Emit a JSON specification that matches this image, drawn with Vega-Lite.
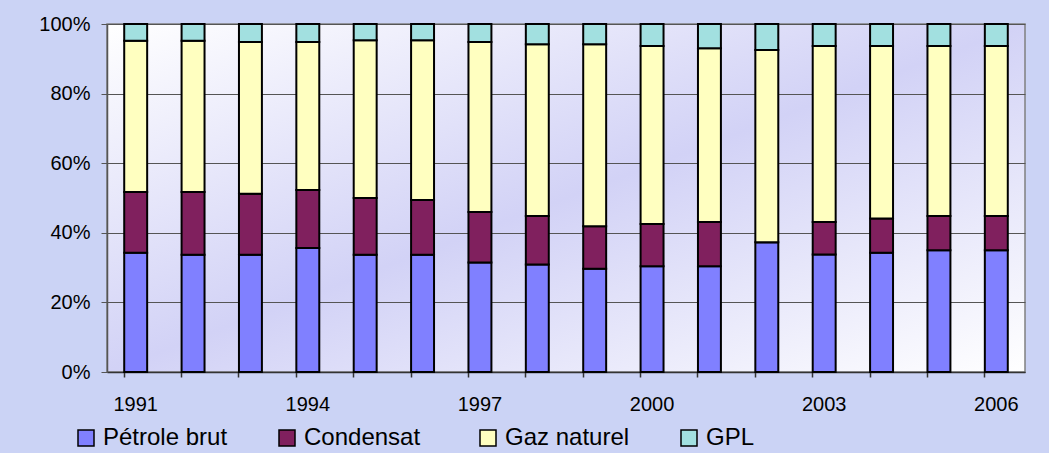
{
  "$schema": "https://vega.github.io/schema/vega-lite/v6.json",
  "width": 918,
  "height": 348,
  "autosize": {"type": "none"},
  "padding": {"left": 107, "top": 24, "right": 24, "bottom": 81},
  "background": "#cbd3f5",
  "config": {
    "font": "Liberation Sans",
    "view": {
      "stroke": "#808080",
      "strokeWidth": 1.5,
      "fill": {"gradient": "linear", "x1": 0, "y1": 0, "x2": 1, "y2": 1,
        "stops": [{"offset": 0, "color": "#ffffff"}, {"offset": 0.5, "color": "#d2d2f6"}, {"offset": 1, "color": "#ffffff"}]}
    }
  },
  "data": {"values": [
    {"year": "1991", "type": "Pétrole brut", "ord": 1, "value": 34.3},
    {"year": "1991", "type": "Condensat", "ord": 2, "value": 17.4},
    {"year": "1991", "type": "Gaz naturel", "ord": 3, "value": 43.5},
    {"year": "1991", "type": "GPL", "ord": 4, "value": 4.8},
    {"year": "1992", "type": "Pétrole brut", "ord": 1, "value": 33.7},
    {"year": "1992", "type": "Condensat", "ord": 2, "value": 18.0},
    {"year": "1992", "type": "Gaz naturel", "ord": 3, "value": 43.5},
    {"year": "1992", "type": "GPL", "ord": 4, "value": 4.8},
    {"year": "1993", "type": "Pétrole brut", "ord": 1, "value": 33.7},
    {"year": "1993", "type": "Condensat", "ord": 2, "value": 17.5},
    {"year": "1993", "type": "Gaz naturel", "ord": 3, "value": 43.6},
    {"year": "1993", "type": "GPL", "ord": 4, "value": 5.2},
    {"year": "1994", "type": "Pétrole brut", "ord": 1, "value": 35.6},
    {"year": "1994", "type": "Condensat", "ord": 2, "value": 16.7},
    {"year": "1994", "type": "Gaz naturel", "ord": 3, "value": 42.5},
    {"year": "1994", "type": "GPL", "ord": 4, "value": 5.2},
    {"year": "1995", "type": "Pétrole brut", "ord": 1, "value": 33.7},
    {"year": "1995", "type": "Condensat", "ord": 2, "value": 16.3},
    {"year": "1995", "type": "Gaz naturel", "ord": 3, "value": 45.3},
    {"year": "1995", "type": "GPL", "ord": 4, "value": 4.7},
    {"year": "1996", "type": "Pétrole brut", "ord": 1, "value": 33.7},
    {"year": "1996", "type": "Condensat", "ord": 2, "value": 15.7},
    {"year": "1996", "type": "Gaz naturel", "ord": 3, "value": 45.9},
    {"year": "1996", "type": "GPL", "ord": 4, "value": 4.7},
    {"year": "1997", "type": "Pétrole brut", "ord": 1, "value": 31.5},
    {"year": "1997", "type": "Condensat", "ord": 2, "value": 14.5},
    {"year": "1997", "type": "Gaz naturel", "ord": 3, "value": 48.8},
    {"year": "1997", "type": "GPL", "ord": 4, "value": 5.2},
    {"year": "1998", "type": "Pétrole brut", "ord": 1, "value": 30.9},
    {"year": "1998", "type": "Condensat", "ord": 2, "value": 13.9},
    {"year": "1998", "type": "Gaz naturel", "ord": 3, "value": 49.4},
    {"year": "1998", "type": "GPL", "ord": 4, "value": 5.8},
    {"year": "1999", "type": "Pétrole brut", "ord": 1, "value": 29.7},
    {"year": "1999", "type": "Condensat", "ord": 2, "value": 12.2},
    {"year": "1999", "type": "Gaz naturel", "ord": 3, "value": 52.3},
    {"year": "1999", "type": "GPL", "ord": 4, "value": 5.8},
    {"year": "2000", "type": "Pétrole brut", "ord": 1, "value": 30.4},
    {"year": "2000", "type": "Condensat", "ord": 2, "value": 12.1},
    {"year": "2000", "type": "Gaz naturel", "ord": 3, "value": 51.2},
    {"year": "2000", "type": "GPL", "ord": 4, "value": 6.3},
    {"year": "2001", "type": "Pétrole brut", "ord": 1, "value": 30.4},
    {"year": "2001", "type": "Condensat", "ord": 2, "value": 12.7},
    {"year": "2001", "type": "Gaz naturel", "ord": 3, "value": 49.9},
    {"year": "2001", "type": "GPL", "ord": 4, "value": 7.0},
    {"year": "2002", "type": "Pétrole brut", "ord": 1, "value": 37.3},
    {"year": "2002", "type": "Condensat", "ord": 2, "value": 0.0},
    {"year": "2002", "type": "Gaz naturel", "ord": 3, "value": 55.2},
    {"year": "2002", "type": "GPL", "ord": 4, "value": 7.5},
    {"year": "2003", "type": "Pétrole brut", "ord": 1, "value": 33.8},
    {"year": "2003", "type": "Condensat", "ord": 2, "value": 9.3},
    {"year": "2003", "type": "Gaz naturel", "ord": 3, "value": 50.6},
    {"year": "2003", "type": "GPL", "ord": 4, "value": 6.3},
    {"year": "2004", "type": "Pétrole brut", "ord": 1, "value": 34.3},
    {"year": "2004", "type": "Condensat", "ord": 2, "value": 9.8},
    {"year": "2004", "type": "Gaz naturel", "ord": 3, "value": 49.6},
    {"year": "2004", "type": "GPL", "ord": 4, "value": 6.3},
    {"year": "2005", "type": "Pétrole brut", "ord": 1, "value": 35.0},
    {"year": "2005", "type": "Condensat", "ord": 2, "value": 9.8},
    {"year": "2005", "type": "Gaz naturel", "ord": 3, "value": 48.9},
    {"year": "2005", "type": "GPL", "ord": 4, "value": 6.3},
    {"year": "2006", "type": "Pétrole brut", "ord": 1, "value": 35.0},
    {"year": "2006", "type": "Condensat", "ord": 2, "value": 9.8},
    {"year": "2006", "type": "Gaz naturel", "ord": 3, "value": 48.9},
    {"year": "2006", "type": "GPL", "ord": 4, "value": 6.3}
  ]},
  "layer": [
    {
      "mark": {"type": "bar", "stroke": "#000000", "strokeWidth": 2},
      "encoding": {
        "x": {
          "field": "year", "type": "ordinal", "title": null,
          "scale": {"paddingInner": 0.6, "paddingOuter": 0.3},
          "axis": {
            "orient": "bottom", "labelAngle": 0, "ticks": false,
            "domain": true, "domainColor": "#333333", "domainWidth": 1.5,
            "labelFontSize": 20, "labelColor": "#000000", "labelPadding": 22,
            "labelExpr": "(+datum.value - 1991) % 3 == 0 ? datum.value : ''"
          }
        },
        "y": {
          "field": "value", "type": "quantitative", "stack": "normalize", "title": null,
          "scale": {"domain": [0, 1], "nice": false},
          "axis": {
            "format": "%", "values": [0, 0.2, 0.4, 0.6, 0.8, 1],
            "grid": true, "gridColor": "#555555", "gridWidth": 1,
            "tickColor": "#555555", "tickSize": 6, "domainColor": "#555555", "domainWidth": 1.5,
            "labelFontSize": 20, "labelColor": "#000000", "labelPadding": 11
          }
        },
        "color": {
          "field": "type", "type": "nominal", "title": null,
          "scale": {
            "domain": ["Pétrole brut", "Condensat", "Gaz naturel", "GPL"],
            "range": ["#8080ff", "#80205e", "#ffffc0", "#a2e0e0"]
          },
          "legend": {
            "orient": "none", "direction": "horizontal", "columns": 4,
            "legendX": -33, "legendY": 402,
            "gridAlign": "all", "columnPadding": 47,
            "symbolType": "square", "symbolSize": 256,
            "symbolStrokeColor": "#000000", "symbolStrokeWidth": 1.5, "symbolOpacity": 1,
            "symbolOffset": 0,
            "labelFontSize": 24, "labelColor": "#000000", "labelOffset": 5, "labelLimit": 300,
            "labelFont": "Liberation Sans",
            "encode": {"symbols": {"update": {"stroke": {"value": "#000000"}, "strokeWidth": {"value": 1.5}}}}
          }
        },
        "order": {"field": "ord", "type": "quantitative", "sort": "ascending"}
      }
    },
    {
      "mark": {"type": "bar", "opacity": 0},
      "encoding": {
        "x": {
          "field": "year", "type": "ordinal", "title": null,
          "axis": {
            "orient": "bottom", "labels": false, "domain": false, "grid": false,
            "ticks": true, "tickSize": 5, "tickColor": "#333333", "tickWidth": 1.5, "bandPosition": 0
          }
        },
        "y": {"field": "value", "type": "quantitative", "stack": "normalize"}
      }
    }
  ],
  "resolve": {"axis": {"x": "independent"}}
}
